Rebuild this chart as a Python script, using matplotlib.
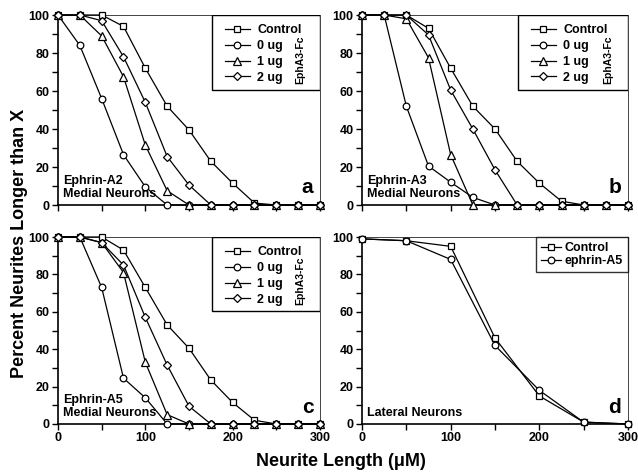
import matplotlib
matplotlib.use("Agg")
import matplotlib.pyplot as plt
from matplotlib.patches import Rectangle
from matplotlib.ticker import MultipleLocator, FuncFormatter

plt.rcParams['font.family'] = ['Liberation Sans', 'DejaVu Sans']
plt.rcParams['font.weight'] = 'bold'

# ---- data ----
x_med = [0, 25, 50, 75, 100, 125, 150, 175, 200, 225, 250, 275, 300]

a_control = [100, 100, 100, 94, 72, 52, 39.5, 23, 11.5, 1, 0, 0, 0]
a_0ug     = [100, 84, 56, 26.5, 9.5, 0, 0, 0, 0, 0, 0, 0, 0]
a_1ug     = [100, 100, 89, 67.5, 31.5, 7.5, 0, 0, 0, 0, 0, 0, 0]
a_2ug     = [100, 100, 97, 78, 54, 25.5, 10.5, 0, 0, 0, 0, 0, 0]

b_control = [100, 100, 100, 93, 72, 52, 40, 23, 11.5, 2, 0, 0, 0]
b_0ug     = [100, 100, 52, 20.5, 12, 4, 0, 0, 0, 0, 0, 0, 0]
b_1ug     = [100, 100, 98, 77.5, 26.5, 0, 0, 0, 0, 0, 0, 0, 0]
b_2ug     = [100, 100, 100, 89.5, 60.5, 40, 18.5, 0, 0, 0, 0, 0, 0]

c_control = [100, 100, 100, 93, 73, 53, 40.5, 23.5, 11.5, 2, 0, 0, 0]
c_0ug     = [100, 100, 73, 24.5, 14, 0, 0, 0, 0, 0, 0, 0, 0]
c_1ug     = [100, 100, 97, 81, 33, 5, 0, 0, 0, 0, 0, 0, 0]
c_2ug     = [100, 100, 97, 85, 57, 31.5, 9.5, 0, 0, 0, 0, 0, 0]

x_lat = [0, 50, 100, 150, 200, 250, 300]
d_control = [99, 98, 95, 46, 15, 1, 0]
d_ephrin  = [99, 98, 88, 42, 18, 1, 0]

med_labels = ["Control", "0 ug", "1 ug", "2 ug"]
med_markers = ["s", "o", "^", "D"]
lat_labels = ["Control", "ephrin-A5"]
lat_markers = ["s", "o"]
msizes = {"s": 4.8, "o": 4.8, "^": 5.2, "D": 4.0}

fig = plt.figure(figsize=(6.38, 4.72), dpi=100)

W, H = 638.0, 472.0
def axbox(l, r, t, b):
    return [l / W, 1 - b / H, (r - l) / W, (b - t) / H]

ax_a = fig.add_axes(axbox(58, 320, 15, 205))
ax_b = fig.add_axes(axbox(362, 628, 15, 205))
ax_c = fig.add_axes(axbox(58, 320, 237, 424))
ax_d = fig.add_axes(axbox(362, 628, 237, 424))

def style(ax, xlabels):
    ax.set_xlim(0, 300)
    ax.set_ylim(0, 100)
    ax.xaxis.set_major_locator(MultipleLocator(50))
    ax.yaxis.set_major_locator(MultipleLocator(10))
    ax.xaxis.set_major_formatter(FuncFormatter(
        lambda v, p: ("%d" % v if int(v) % 100 == 0 else "") if xlabels else ""))
    ax.yaxis.set_major_formatter(FuncFormatter(
        lambda v, p: "%d" % v if int(round(v)) % 20 == 0 else ""))
    ax.tick_params(direction='out', length=4, width=1, labelsize=9, pad=2)
    for s in ['left', 'bottom']:
        ax.spines[s].set_linewidth(1.2)
    for s in ['top', 'right']:
        ax.spines[s].set_linewidth(0.7)
        ax.spines[s].set_color('#444444')
    for lab in ax.get_xticklabels() + ax.get_yticklabels():
        lab.set_fontweight('bold')

def med_panel(ax, series, name, letter, xlabels):
    handles = []
    for ys, m, lab in zip(series, med_markers, med_labels):
        h, = ax.plot(x_med, ys, color='black', lw=0.9, marker=m, ms=msizes[m],
                     mfc='white', mec='black', mew=0.9, clip_on=False, zorder=3,
                     label=lab)
        handles.append(h)
    style(ax, xlabels)
    ax.add_patch(Rectangle((0.588, 0.605), 0.412, 0.395, transform=ax.transAxes,
                           fill=True, fc='white', ec='black', lw=1, zorder=4))
    leg = ax.legend(handles=handles, loc='upper left', bbox_to_anchor=(0.6, 1.0),
                    frameon=False, handlelength=2.0,
                    handletextpad=0.6, labelspacing=0.3, borderaxespad=0.35,
                    prop={'weight': 'bold', 'size': 9})
    leg.set_zorder(5)
    ax.text(0.925, 0.765, "EphA3-Fc", transform=ax.transAxes, rotation=90,
            ha='center', va='center', fontsize=7.5, fontweight='bold', zorder=6)
    ax.text(0.018, 0.025, name, transform=ax.transAxes, ha='left', va='bottom',
            fontsize=9, fontweight='bold', linespacing=1.1)
    ax.text(0.975, 0.04, letter, transform=ax.transAxes, ha='right', va='bottom',
            fontsize=15, fontweight='bold')

med_panel(ax_a, [a_control, a_0ug, a_1ug, a_2ug], "Ephrin-A2\nMedial Neurons", "a", False)
med_panel(ax_b, [b_control, b_0ug, b_1ug, b_2ug], "Ephrin-A3\nMedial Neurons", "b", False)
med_panel(ax_c, [c_control, c_0ug, c_1ug, c_2ug], "Ephrin-A5\nMedial Neurons", "c", True)

handles = []
for ys, m, lab in zip([d_control, d_ephrin], lat_markers, lat_labels):
    h, = ax_d.plot(x_lat, ys, color='black', lw=0.9, marker=m, ms=msizes[m],
                   mfc='white', mec='black', mew=0.9, clip_on=False, zorder=3,
                   label=lab)
    handles.append(h)
style(ax_d, True)
leg = ax_d.legend(handles=handles, loc='upper right', bbox_to_anchor=(1.0, 1.0),
                  frameon=True, fancybox=False, edgecolor='black',
                  handlelength=1.6, handletextpad=0.3, labelspacing=0.1,
                  borderaxespad=0.0, borderpad=0.4,
                  prop={'weight': 'bold', 'size': 9})
leg.get_frame().set_linewidth(1)
ax_d.text(0.018, 0.025, "Lateral Neurons", transform=ax_d.transAxes,
          ha='left', va='bottom', fontsize=9, fontweight='bold')
ax_d.text(0.975, 0.04, "d", transform=ax_d.transAxes, ha='right', va='bottom',
          fontsize=15, fontweight='bold')

fig.text(0.03, 0.485, "Percent Neurites Longer than X", rotation=90,
         ha='center', va='center', fontsize=13, fontweight='bold')
fig.text(0.535, 0.022, "Neurite Length (\u03bcM)", ha='center', va='center',
         fontsize=13, fontweight='bold')

fig.savefig("out.png", dpi=100)
